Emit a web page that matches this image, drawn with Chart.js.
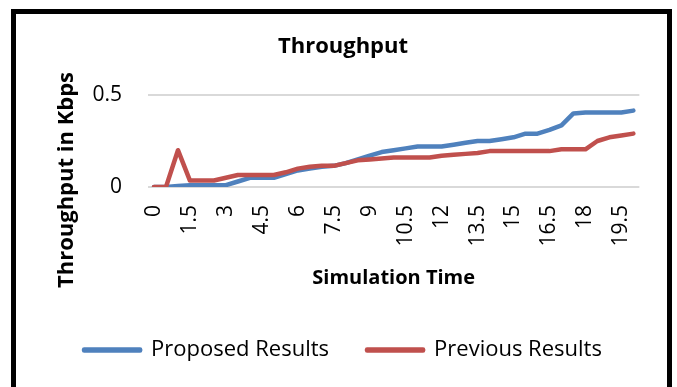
<!DOCTYPE html>
<html>
<head>
<meta charset="utf-8">
<script src="https://cdn.jsdelivr.net/npm/chart.js@4"></script>
<style>
  html, body { margin: 0; padding: 0; background: #fff; overflow: hidden; }
  #wrap { position: relative; width: 677px; height: 387px; }
  #c { position: absolute; left: 0; top: 0; }
  #frame { position: absolute; left: 11px; top: 9px; width: 661px; height: 420px;
           border: 5px solid #000; box-sizing: border-box; pointer-events: none; }
</style>
</head>
<body>
<div id="wrap">
  <canvas id="c" width="677" height="387"></canvas>
  <div id="frame"></div>
</div>
<script>
const categories = ['0','0.5','1','1.5','2','2.5','3','3.5','4','4.5','5','5.5','6','6.5','7','7.5','8','8.5','9','9.5','10','10.5','11','11.5','12','12.5','13','13.5','14','14.5','15','15.5','16','16.5','17','17.5','18','18.5','19','19.5','20'];
const proposedResults = [0, 0, 0.005, 0.01, 0.01, 0.01, 0.01, 0.03, 0.05, 0.05, 0.05, 0.07, 0.09, 0.10, 0.11, 0.115, 0.13, 0.15, 0.17, 0.19, 0.20, 0.21, 0.22, 0.22, 0.22, 0.23, 0.24, 0.25, 0.25, 0.26, 0.27, 0.29, 0.29, 0.31, 0.335, 0.40, 0.405, 0.405, 0.405, 0.405, 0.415];
const previousResults = [0, 0, 0.2, 0.035, 0.035, 0.035, 0.05, 0.065, 0.065, 0.065, 0.065, 0.08, 0.10, 0.11, 0.115, 0.115, 0.13, 0.145, 0.15, 0.155, 0.16, 0.16, 0.16, 0.16, 0.17, 0.175, 0.18, 0.185, 0.195, 0.195, 0.195, 0.195, 0.195, 0.195, 0.205, 0.205, 0.205, 0.25, 0.27, 0.28, 0.29];
const seriesNames = ['Proposed Results', 'Previous Results'];
const yTicks = [0, 0.5];
const yAxisTitle = 'Throughput in Kbps';

const FONT = "'Open Sans', 'Noto Sans', sans-serif";

// y-axis title drawn centred on the whole plot frame, as in the original
const yTitlePlugin = {
  id: 'yTitle',
  afterDraw(chart) {
    const ctx = chart.ctx;
    ctx.save();
    ctx.translate(67, 180);
    ctx.rotate(-Math.PI / 2);
    ctx.font = "bold 22px " + FONT;
    ctx.fillStyle = '#000';
    ctx.textAlign = 'center';
    ctx.textBaseline = 'middle';
    ctx.fillText(yAxisTitle, 0, 0);
    ctx.restore();
  }
};

new Chart(document.getElementById('c'), {
  type: 'line',
  data: {
    labels: categories,
    datasets: [
      { label: seriesNames[0], data: proposedResults, borderColor: '#4f81bd', backgroundColor: '#4f81bd',
        borderWidth: 4.5, pointRadius: 0, tension: 0, borderCapStyle: 'round', borderJoinStyle: 'round', order: 1 },
      { label: seriesNames[1], data: previousResults, borderColor: '#c0504d', backgroundColor: '#c0504d',
        borderWidth: 4.5, pointRadius: 0, tension: 0, borderCapStyle: 'round', borderJoinStyle: 'round', order: 0 }
    ]
  },
  plugins: [yTitlePlugin],
  options: {
    responsive: false,
    animation: false,
    devicePixelRatio: 1,
    layout: { padding: { left: 46, right: 37, top: 0, bottom: 16 } },
    plugins: {
      title: {
        display: true, text: 'Throughput', color: '#000',
        font: { family: FONT, size: 22, weight: 'bold' },
        padding: { top: 33.8, bottom: 34.8 }
      },
      legend: {
        position: 'bottom',
        labels: {
          color: '#000', font: { family: FONT, size: 22 },
          boxWidth: 56, boxHeight: 1, padding: 38,
          sort: (a, b) => a.datasetIndex - b.datasetIndex
        }
      },
      tooltip: { enabled: false }
    },
    scales: {
      x: {
        offset: true,
        grid: { display: false, drawTicks: false },
        border: { display: false },
        ticks: {
          autoSkip: false, maxRotation: 90, minRotation: 90, padding: 18, color: '#000',
          font: { family: FONT, size: 21 },
          callback: function(v, i) { return i % 3 === 0 ? categories[i] : ''; }
        },
        title: { display: true, text: 'Simulation Time', color: '#000',
          font: { family: FONT, size: 20, weight: 'bold' }, padding: { top: 0, bottom: 11 } },
        afterFit: function(s) { s.height = 114; }
      },
      y: {
        min: yTicks[0], max: yTicks[yTicks.length - 1],
        grid: { color: '#d9d9d9', lineWidth: 2, drawTicks: false },
        border: { display: false },
        ticks: { stepSize: 0.5, padding: 26, color: '#000', font: { family: FONT, size: 21 } },
        title: { display: false },
        afterFit: function(s) { s.width = 102; }
      }
    }
  }
});
</script>
</body>
</html>
